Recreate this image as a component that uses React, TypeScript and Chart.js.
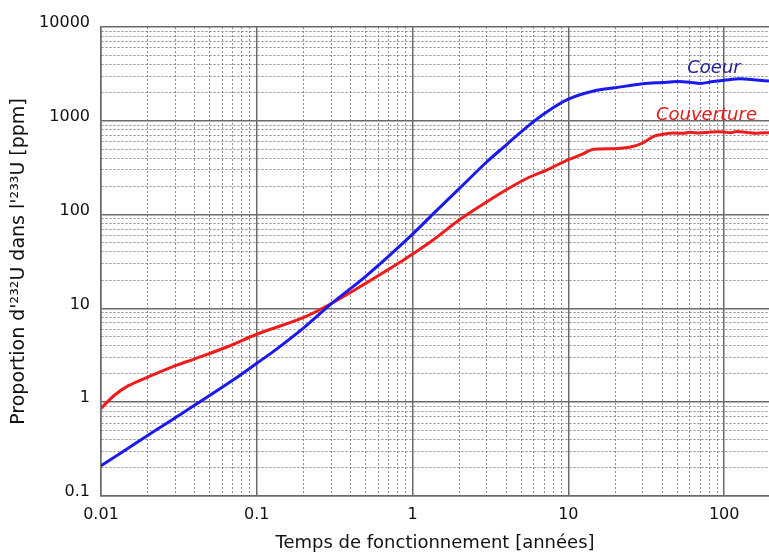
import { useEffect, useRef } from 'react';
import { Chart, registerables } from 'chart.js';

Chart.register(...registerables);

// Coeur (blue)
const coeurX = [0.01, 0.0232, 0.07, 0.1, 0.13, 0.2, 0.307, 0.5, 1, 1.34, 2, 3, 4, 5.6, 7.3, 10, 15, 20, 30, 40, 50, 60, 70, 85, 100, 127, 160, 194];
const coeurY = [0.21, 0.52, 1.71, 2.6, 3.55, 6.2, 11.5, 22, 62, 100, 190, 366, 555, 900, 1250, 1700, 2100, 2250, 2480, 2560, 2620, 2580, 2500, 2620, 2700, 2800, 2720, 2650];

// Couverture (red)
const couvX = [0.01, 0.0123, 0.015, 0.02, 0.03, 0.04, 0.065, 0.1, 0.2, 0.307, 0.5, 0.83, 1, 1.34, 2, 3, 4, 5.6, 7.3, 10, 12.3, 14, 16, 20, 25, 30, 33, 36, 40, 47, 55, 60, 70, 80, 90, 100, 110, 120, 140, 160, 180, 194];
const couvY = [0.86, 1.2, 1.5, 1.85, 2.45, 2.9, 3.9, 5.3, 8, 11.5, 18.5, 31, 38, 53, 88, 137, 184, 250, 300, 385, 440, 490, 500, 505, 525, 580, 640, 690, 715, 740, 735, 755, 740, 755, 765, 760, 745, 770, 750, 735, 748, 745];

const seriesNames = ['Coeur', 'Couverture'];
const xTickLabels = ['0.01', '0.1', '1', '10', '100'];
const yTickLabels = ['0.1', '1', '10', '100', '1000', '10000'];
const xTitle = 'Temps de fonctionnement [années]';
const yTitle = "Proportion d'\u00b2\u00b3\u00b2U dans l'\u00b2\u00b3\u00b3U [ppm]";

const X_MIN = 0.01;
const X_MAX = 194;
const Y_MIN = 0.1;
const Y_MAX = 10000;

const FONT = 'DejaVu Sans';

function isPow10(v: number) {
  const l = Math.log10(v);
  return Math.abs(l - Math.round(l)) < 1e-6;
}

function logTicks(min: number, max: number) {
  const out: { value: number }[] = [];
  for (let e = Math.floor(Math.log10(min)); e <= Math.ceil(Math.log10(max)); e++) {
    for (let m = 1; m <= 9; m++) {
      const v = parseFloat((m * Math.pow(10, e)).toPrecision(6));
      if (v >= min * 0.9999 && v <= max * 1.0001) out.push({ value: v });
    }
  }
  return out;
}

function labelFor(labels: string[], min: number) {
  return (value: number | string) => {
    const v = Number(value);
    if (!isPow10(v)) return '';
    const idx = Math.round(Math.log10(v)) - Math.round(Math.log10(min));
    return labels[idx] ?? '';
  };
}

const gridColor = (ctx: any) => (ctx.tick && isPow10(ctx.tick.value) ? '#6a6a6a' : '#8a8a8a');
const gridWidth = (ctx: any) => (ctx.tick && isPow10(ctx.tick.value) ? 1.5 : 1);
const gridDash = (ctx: any) => (ctx.type === 'tick' && ctx.tick && !isPow10(ctx.tick.value) ? [2, 2] : []);

const labelPlugin = {
  id: 'seriesLabels',
  afterDatasetsDraw(chart: any) {
    const { ctx, scales } = chart;
    const xs = scales.x;
    const ys = scales.y;
    ctx.save();
    ctx.font = `italic 18px "${FONT}"`;
    ctx.textAlign = 'center';
    ctx.textBaseline = 'middle';
    ctx.fillStyle = '#23239c';
    ctx.fillText(seriesNames[0], xs.getPixelForValue(86), ys.getPixelForValue(3600));
    ctx.fillStyle = '#dd2020';
    ctx.fillText(seriesNames[1], xs.getPixelForValue(77), ys.getPixelForValue(1140));
    ctx.restore();
  },
};

export default function App() {
  const ref = useRef<HTMLCanvasElement | null>(null);

  useEffect(() => {
    if (!ref.current) return;
    const chart = new Chart(ref.current, {
      type: 'line',
      data: {
        datasets: [
          {
            label: seriesNames[0],
            data: coeurX.map((x, i) => ({ x, y: coeurY[i] })),
            borderColor: '#1a1aee',
            borderWidth: 3,
            pointRadius: 0,
            cubicInterpolationMode: 'monotone',
            fill: false,
          },
          {
            label: seriesNames[1],
            data: couvX.map((x, i) => ({ x, y: couvY[i] })),
            borderColor: '#ee1c1c',
            borderWidth: 3,
            pointRadius: 0,
            cubicInterpolationMode: 'monotone',
            fill: false,
          },
        ],
      },
      options: {
        animation: false,
        responsive: true,
        maintainAspectRatio: false,
        layout: { padding: { top: 27, right: 0, bottom: 0, left: 0 } },
        plugins: {
          legend: { display: false },
          tooltip: { enabled: false },
        },
        scales: {
          x: {
            type: 'logarithmic',
            min: X_MIN,
            max: X_MAX,
            afterBuildTicks: (s: any) => {
              s.ticks = logTicks(X_MIN, X_MAX);
            },
            afterFit: (s: any) => {
              s.height = 57;
            },
            ticks: {
              autoSkip: false,
              maxRotation: 0,
              minRotation: 0,
              padding: 9,
              color: '#111',
              font: { family: FONT, size: 16 },
              callback: labelFor(xTickLabels, X_MIN),
            },
            grid: {
              drawTicks: false,
              color: gridColor,
              lineWidth: gridWidth,
            },
            border: { display: true, color: '#6a6a6a', width: 1.5, dash: gridDash },
            title: {
              display: true,
              text: xTitle,
              color: '#111',
              font: { family: FONT, size: 18 },
              padding: { top: 0, bottom: -1 },
            },
          },
          y: {
            type: 'logarithmic',
            min: Y_MIN,
            max: Y_MAX,
            afterBuildTicks: (s: any) => {
              s.ticks = logTicks(Y_MIN, Y_MAX);
            },
            afterFit: (s: any) => {
              s.width = 101;
            },
            ticks: {
              autoSkip: false,
              padding: 11,
              labelOffset: -4,
              color: '#111',
              font: { family: FONT, size: 16 },
              callback: labelFor(yTickLabels, Y_MIN),
            },
            grid: {
              drawTicks: false,
              color: gridColor,
              lineWidth: gridWidth,
            },
            border: { display: true, color: '#6a6a6a', width: 1.5, dash: gridDash },
            title: {
              display: true,
              text: yTitle,
              color: '#111',
              font: { family: FONT, size: 19 },
              padding: { top: 8, bottom: 0 },
            },
          },
        },
      },
      plugins: [labelPlugin],
    });
    return () => chart.destroy();
  }, []);

  return (
    <div style={{ position: 'absolute', left: 0, top: 0, width: 769, height: 553, background: '#fff' }}>
      <canvas ref={ref} />
    </div>
  );
}
